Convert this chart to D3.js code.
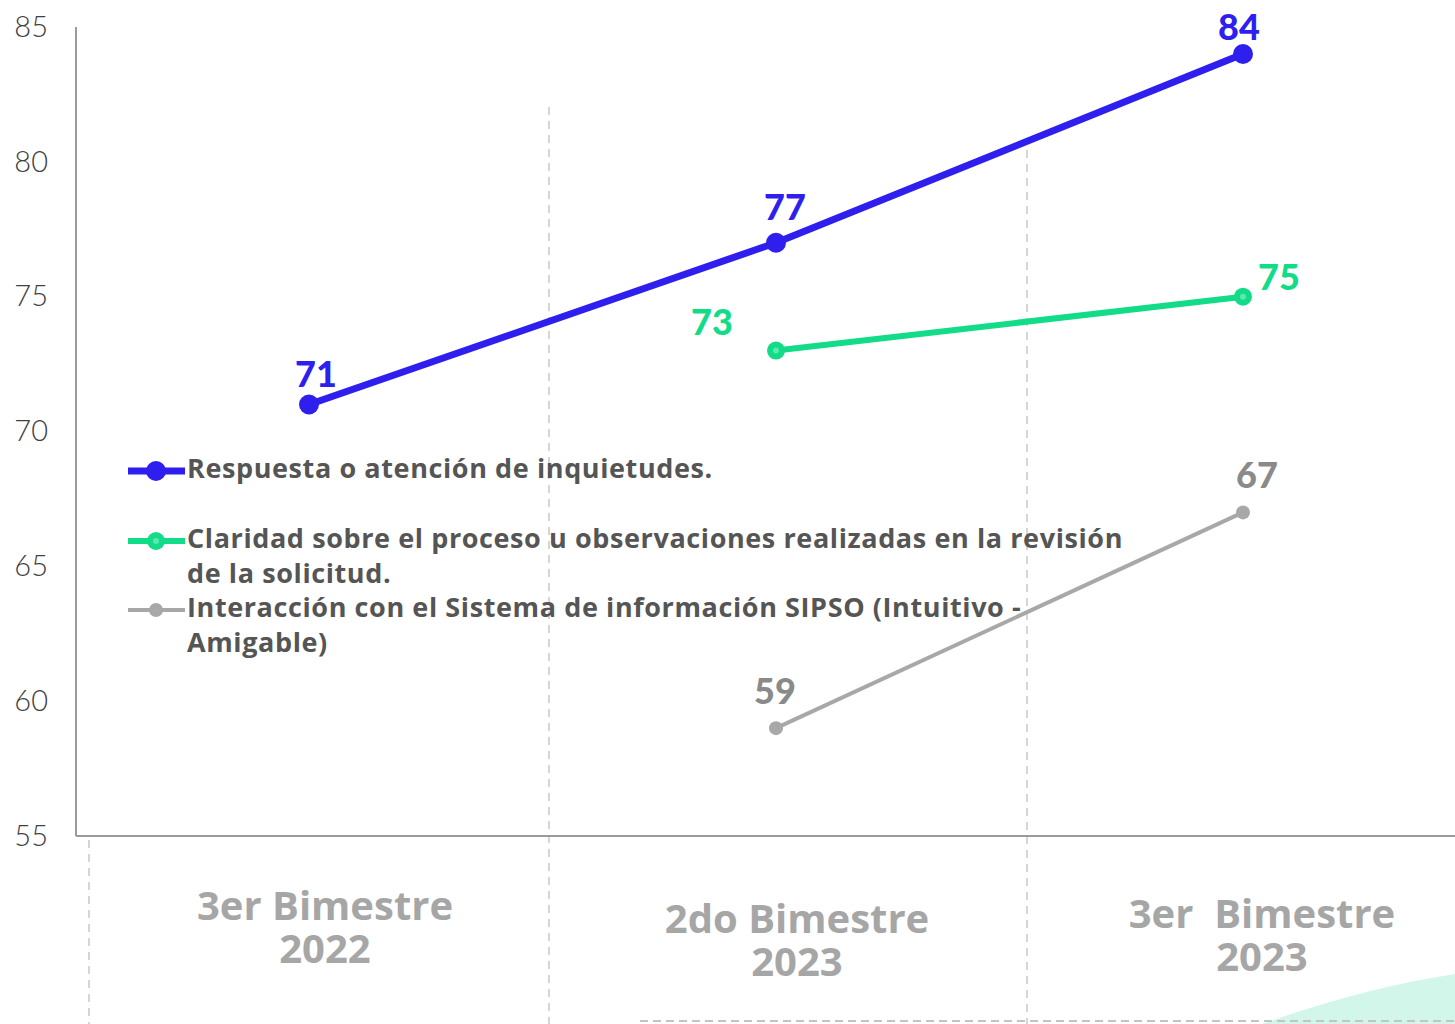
<!DOCTYPE html>
<html>
<head>
<meta charset="utf-8">
<script src="https://cdn.jsdelivr.net/npm/d3@7"></script>
<style>
  body { margin: 0; background: #fff; }
  svg { display: block; }
</style>
</head>
<body>
<svg id="chart"></svg>
<script>
const width = 1455
const height = 1024

// data
const categories = ["3er Bimestre 2022", "2do Bimestre 2023", "3er Bimestre 2023"]
const categoryLines = [["3er Bimestre", "2022"], ["2do Bimestre", "2023"], ["3er  Bimestre", "2023"]]
const respuesta = [71, 77, 84]
const claridad = [null, 73, 75]
const interaccion = [null, 59, 67]
const yTicks = [55, 60, 65, 70, 75, 80, 85]
const legendLabels = [
    ["Respuesta o atención de inquietudes."],
    ["Claridad sobre el proceso u observaciones realizadas en la revisión", "de la solicitud."],
    ["Interacción con el Sistema de información SIPSO (Intuitivo -", "Amigable)"]
]

const SERIES = [
    { values: respuesta, color: "#2f1fef", label: "#2f1fef", width: 7, r: 10, inner: null,
      offsets: [[7, -27], [9, -32], [-4, -23]] },
    { values: claridad, color: "#12dc88", label: "#12dc88", width: 6, r: 9, inner: "#5ce8b0",
      offsets: [null, [-64, -25], [36, -16]] },
    { values: interaccion, color: "#a8a8a8", label: "#8a8a8a", width: 4, r: 7, inner: null,
      offsets: [null, [-1, -33], [14, -34]] }
]

const svg = d3.select("#chart")
    .attr("width", width)
    .attr("height", height)
    .attr("viewBox", `0 0 ${width} ${height}`)

const x = d3.scalePoint().domain(categories).range([309, 1243])
const y = d3.scaleLinear().domain([55, 85]).range([836, 27])

// mint decoration bottom-right
svg.append("path")
    .attr("d", "M1262,1024 C1330,1000 1390,984 1455,974 L1455,1024 Z")
    .attr("fill", "#d2f7ea")

// dashed separators
const sepTops = [840, 107, 150]
const sepShift = [-220, -227, -216]
svg.append("g")
    .selectAll("line")
    .data(categories)
    .join("line")
    .attr("x1", (d, i) => x(d) + sepShift[i])
    .attr("x2", (d, i) => x(d) + sepShift[i])
    .attr("y1", (d, i) => sepTops[i])
    .attr("y2", height)
    .attr("stroke", "#c8c8c8")
    .attr("stroke-width", 1.5)
    .attr("stroke-dasharray", "8,6")

svg.append("line")
    .attr("x1", 640).attr("x2", width)
    .attr("y1", 1021).attr("y2", 1021)
    .attr("stroke", "#c4c4c4")
    .attr("stroke-width", 2)
    .attr("stroke-dasharray", "8,5")

// axes
const yAxis = svg.append("g")
    .attr("transform", "translate(76,0)")
    .call(d3.axisLeft(y).tickValues(yTicks).tickSize(0).tickPadding(28))
yAxis.select(".domain").attr("stroke", "#9a9a9a").attr("stroke-width", 2)
    .attr("d", `M0,${y(85)}V${y(55)}`)
yAxis.selectAll("text")
    .attr("font-family", "Lato, sans-serif")
    .attr("font-weight", 300)
    .attr("font-size", 29)
    .attr("fill", "#404040")

svg.append("line")
    .attr("x1", 76).attr("x2", width)
    .attr("y1", y(55)).attr("y2", y(55))
    .attr("stroke", "#9a9a9a")
    .attr("stroke-width", 2)

// category labels
const catY = [909, 922, 917]
const catDx = [16, 21, 19]
const catG = svg.append("g")
categories.forEach((c, i) => {
    const t = catG.append("text")
        .attr("x", x(c) + catDx[i])
        .attr("y", catY[i])
        .attr("text-anchor", "middle")
        .attr("font-family", "'Open Sans', sans-serif")
        .attr("font-weight", 700)
        .attr("font-size", 40)
        .attr("fill", "#a6a6a6")
        .attr("dominant-baseline", "middle")
        .style("white-space", "pre")
    categoryLines[i].forEach((line, j) => {
        t.append("tspan")
            .attr("x", x(c) + catDx[i])
            .attr("dy", j === 0 ? 0 : 43)
            .text(line)
    })
})

// lines
const lineGen = d3.line()
    .defined(d => d.v != null)
    .x(d => x(d.c))
    .y(d => y(d.v))

SERIES.slice().reverse().forEach(s => {
    const pts = categories.map((c, i) => ({ c, v: s.values[i], off: s.offsets[i] }))
    const g = svg.append("g")
    g.append("path")
        .datum(pts)
        .attr("fill", "none")
        .attr("stroke", s.color)
        .attr("stroke-width", s.width)
        .attr("d", lineGen)
    const valid = pts.filter(d => d.v != null)
    g.selectAll("circle.m")
        .data(valid)
        .join("circle")
        .attr("class", "m")
        .attr("cx", d => x(d.c))
        .attr("cy", d => y(d.v))
        .attr("r", s.r)
        .attr("fill", s.color)
    if (s.inner) {
        g.selectAll("circle.in")
            .data(valid)
            .join("circle")
            .attr("class", "in")
            .attr("cx", d => x(d.c))
            .attr("cy", d => y(d.v))
            .attr("r", 3)
            .attr("fill", s.inner)
    }
    g.selectAll("text")
        .data(valid)
        .join("text")
        .attr("x", d => x(d.c) + d.off[0])
        .attr("y", d => y(d.v) + d.off[1])
        .attr("text-anchor", "middle")
        .attr("dominant-baseline", "middle")
        .attr("font-family", "Lato, sans-serif")
        .attr("font-weight", 900)
        .attr("font-size", 36)
        .attr("fill", s.label)
        .text(d => d.v)
})

// legend
const legendY = [471, 541, 610]
const legend = svg.append("g")
SERIES.forEach((s, i) => {
    const g = legend.append("g").attr("transform", `translate(0,${legendY[i]})`)
    g.append("line")
        .attr("x1", 128).attr("x2", 185)
        .attr("stroke", s.color)
        .attr("stroke-width", s.width)
    g.append("circle").attr("cx", 156).attr("r", s.r).attr("fill", s.color)
    if (s.inner) g.append("circle").attr("cx", 156).attr("r", 3).attr("fill", s.inner)
    const t = g.append("text")
        .attr("x", 187)
        .attr("dominant-baseline", "middle")
        .attr("font-family", "'Open Sans', sans-serif")
        .attr("font-weight", 700)
        .attr("font-size", 27)
        .attr("letter-spacing", 0.6)
        .attr("fill", "#555555")
    legendLabels[i].forEach((line, j) => {
        t.append("tspan").attr("x", 187).attr("dy", j === 0 ? 0 : 34.5).text(line)
    })
})
</script>
</body>
</html>
